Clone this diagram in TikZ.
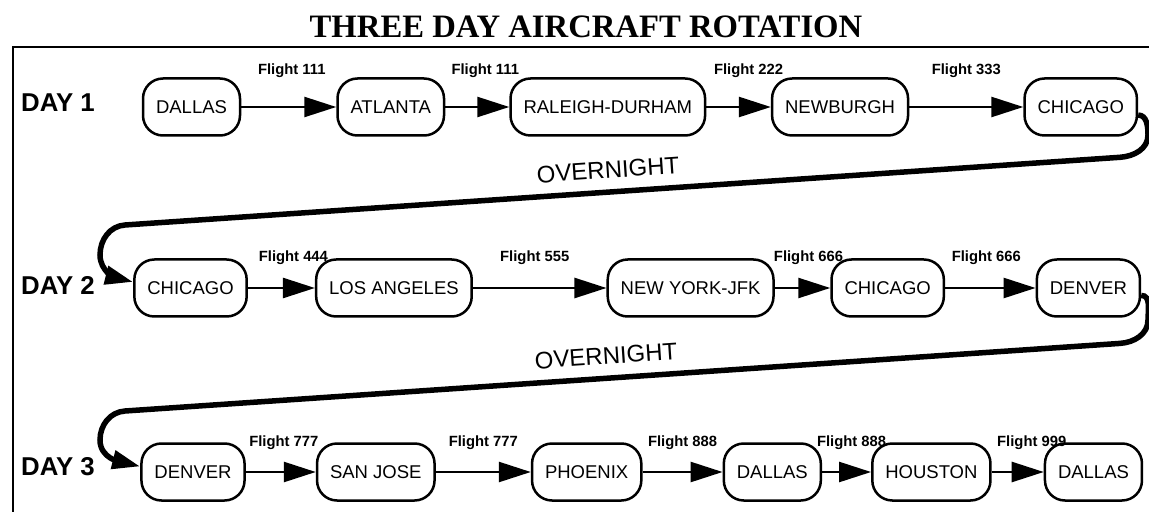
\documentclass[tikz,border=0pt]{standalone}
\usepackage{fontspec}
\setmainfont{Liberation Serif}
\setsansfont{Liberation Sans}
\usetikzlibrary{arrows.meta,positioning}

\begin{document}
\begin{tikzpicture}[
  x=1pt, y=1pt,
  city/.style={rectangle, draw, line width=2.5pt, rounded corners=20pt, minimum height=57pt, minimum width=97pt, inner xsep=13pt, font=\sffamily\fontsize{18.5}{20}\selectfont},
  day/.style={anchor=west, inner sep=0pt, font=\sffamily\bfseries\fontsize{25.8}{28}\selectfont},
  flt/.style={midway, anchor=base, yshift=26pt, font=\sffamily\bfseries\fontsize{14.8}{16}\selectfont},
  flthi/.style={flt, yshift=6pt},
  arr/.style={-{Triangle[length=32pt,width=20pt]}, line width=2.5pt},
  night/.style={-{Triangle[length=28pt,width=18pt]}, line width=5.5pt},
  nightlbl/.style={rotate=3.9, font=\sffamily\fontsize{24}{26}\selectfont}
]
\useasboundingbox (0,0) rectangle (1149,512);

\node[anchor=base, font=\bfseries\fontsize{32.7}{36}\selectfont] (title) at (586,474) {THREE DAY AIRCRAFT ROTATION};
\draw[line width=2.5pt] (1149,465) -- (13,465) -- (13,0);

% day 1
\node[day] (d1) at (21,409) {DAY 1};
\node[city] (dal1) at (191.5,405) {DALLAS};
\node[city, right=95pt of dal1]  (atl)  {ATLANTA};
\node[city, right=64pt of atl]   (rdu)  {RALEIGH-DURHAM};
\node[city, right=64.5pt of rdu] (nwb)  {NEWBURGH};
\node[city, right=114pt of nwb]  (chi1) {CHICAGO};

% day 2
\node[day] (d2) at (21,227) {DAY 2};
\node[city] (chi2) at (190.5,224) {CHICAGO};
\node[city, right=67pt of chi2]   (lax)  {LOS ANGELES};
\node[city, right=133.5pt of lax] (jfk)  {NEW YORK-JFK};
\node[city, right=55.5pt of jfk]  (chi3) {CHICAGO};
\node[city, right=90.5pt of chi3] (den2) {DENVER};

% day 3
\node[day] (d3) at (21,45) {DAY 3};
\node[city] (den3) at (193,40) {DENVER};
\node[city, right=70pt of den3] (sjc)  {SAN JOSE};
\node[city, right=95pt of sjc]  (phx)  {PHOENIX};
\node[city, right=80pt of phx]  (dal2) {DALLAS};
\node[city, right=49pt of dal2] (hou)  {HOUSTON};
\node[city, right=52pt of hou]  (dal3) {DALLAS};

\draw[arr] (dal1) -- node[flthi, xshift=3pt]{Flight 111} (atl);
\draw[arr] (atl)  -- node[flthi, xshift=8pt]{Flight 111} (rdu);
\draw[arr] (rdu)  -- node[flthi, xshift=10pt]{Flight 222} (nwb);
\draw[arr] (nwb)  -- node[flthi]{Flight 333} (chi1);

\draw[arr] (chi2) -- node[flt, xshift=12pt]{Flight 444} (lax);
\draw[arr] (lax)  -- node[flt, xshift=-5pt]{Flight 555} (jfk);
\draw[arr] (jfk)  -- node[flt, xshift=6pt]{Flight 666} (chi3);
\draw[arr] (chi3) -- node[flt, xshift=-4pt]{Flight 666} (den2);

\draw[arr] (den3) -- node[flt, xshift=3pt]{Flight 777} (sjc);
\draw[arr] (sjc)  -- node[flt]{Flight 777} (phx);
\draw[arr] (phx)  -- node[flt]{Flight 888} (dal2);
\draw[arr] (dal2) -- node[flt, xshift=5pt]{Flight 888} (hou);
\draw[arr] (hou)  -- node[flt, xshift=14pt]{Flight 999} (dal3);

% overnight legs
\draw[night] (chi1.-8) to[out=0,in=90] (1148,377) to[out=-90,in=3.8] (1120,354.7)
  -- (125,287) to[out=183.8,in=90] (100,257) to[out=-90,in=166] (chi2.174);
\node[nightlbl] (on1) at (608,342) {OVERNIGHT};

\draw[night] (den2.-8) to[out=0,in=90] (1148,192) to[out=-90,in=3.8] (1120,168.6)
  -- (125,101) to[out=183.8,in=90] (100,72) to[out=-90,in=166] (den3.174);
\node[nightlbl] (on2) at (606,156) {OVERNIGHT};
\end{tikzpicture}
\end{document}
